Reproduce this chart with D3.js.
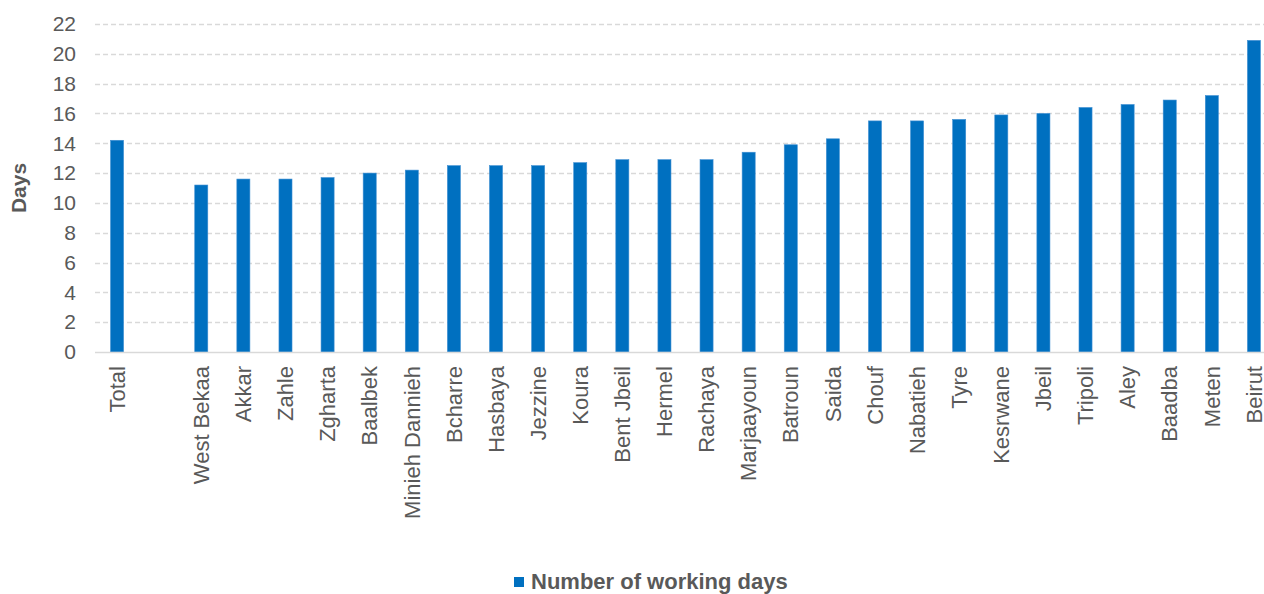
<!DOCTYPE html>
<html>
<head>
<meta charset="utf-8">
<script src="https://cdn.jsdelivr.net/npm/d3@7/dist/d3.min.js"></script>
<style>
  html, body { margin: 0; padding: 0; background: #ffffff; }
  svg { display: block; font-family: "Liberation Sans", Arial, sans-serif; }
</style>
</head>
<body>
<svg id="chart" width="1264" height="594"></svg>
<script>
const categories = ["Total", "", "West Bekaa", "Akkar", "Zahle", "Zgharta", "Baalbek", "Minieh Dannieh",
  "Bcharre", "Hasbaya", "Jezzine", "Koura", "Bent Jbeil", "Hermel", "Rachaya", "Marjaayoun",
  "Batroun", "Saida", "Chouf", "Nabatieh", "Tyre", "Kesrwane", "Jbeil", "Tripoli", "Aley",
  "Baadba", "Meten", "Beirut"];
const workingDays = [14.2, null, 11.2, 11.6, 11.6, 11.7, 12.0, 12.2,
  12.5, 12.5, 12.5, 12.7, 12.9, 12.9, 12.9, 13.4,
  13.9, 14.3, 15.5, 15.5, 15.6, 15.9, 16.0, 16.4, 16.6,
  16.9, 17.2, 20.9];
const yTicks = [0, 2, 4, 6, 8, 10, 12, 14, 16, 18, 20, 22];
const seriesName = "Number of working days";
const axisTitle = "Days";

const svg = d3.select("#chart");
const color = "#0070C0";
const textColor = "#595959";
const gridColor = "#d9d9d9";

const x = d3.scaleBand()
  .domain(d3.range(categories.length))
  .range([96, 1275])
  .paddingInner(0.69)
  .paddingOuter(0.345);
const y = d3.scaleLinear().domain([0, 22]).range([352, 24]);

// gridlines
svg.append("g").selectAll("line")
  .data(yTicks.filter(t => t !== 0))
  .join("line")
  .attr("x1", 95).attr("x2", 1264)
  .attr("y1", d => Math.round(y(d)) + 0.5).attr("y2", d => Math.round(y(d)) + 0.5)
  .attr("stroke", gridColor).attr("stroke-width", 1.3)
  .attr("stroke-dasharray", "5,3");

// y tick labels via axis
const yAxis = svg.append("g")
  .attr("transform", "translate(76,0)")
  .call(d3.axisLeft(y).tickValues(yTicks).tickSize(0).tickPadding(0).tickFormat(d3.format("d")));
yAxis.select(".domain").remove();
yAxis.selectAll("text")
  .attr("fill", textColor)
  .style("font-size", "21px")
  .style("font-family", "'Liberation Sans', Arial, sans-serif");

// bars
svg.append("g").selectAll("rect")
  .data(workingDays.map((v, i) => ({ v, i })).filter(d => d.v !== null))
  .join("rect")
  .attr("x", d => x(d.i))
  .attr("width", x.bandwidth())
  .attr("y", d => y(d.v))
  .attr("height", d => y(0) - y(d.v))
  .attr("fill", color)
  .attr("stroke", "#3f8fd2")
  .attr("stroke-width", 0.6);

// x axis line
svg.append("line")
  .attr("x1", 95).attr("x2", 1264)
  .attr("y1", y(0) + 0.5).attr("y2", y(0) + 0.5)
  .attr("stroke", gridColor).attr("stroke-width", 1.6);

// category labels (rotated)
const xAxis = svg.append("g")
  .attr("transform", `translate(0,${y(0)})`)
  .call(d3.axisBottom(x).tickSize(0).tickFormat(i => categories[i]));
xAxis.select(".domain").remove();
xAxis.selectAll("text")
  .attr("fill", textColor)
  .style("font-size", "22px")
  .style("font-family", "'Liberation Sans', Arial, sans-serif")
  .attr("text-anchor", "end")
  .attr("dy", "0.35em")
  .attr("transform", "translate(0,14) rotate(-90)")
  .attr("x", 0).attr("y", 0);

// y-axis title
svg.append("text")
  .attr("transform", "translate(26,188) rotate(-90)")
  .attr("text-anchor", "middle")
  .attr("fill", textColor)
  .style("font-size", "21px")
  .style("font-weight", "bold")
  .text(axisTitle);

// legend
const legend = svg.append("g").attr("transform", "translate(514,577)");
legend.append("rect").attr("width", 10).attr("height", 10).attr("fill", color);
legend.append("text")
  .attr("x", 17).attr("y", 12)
  .attr("fill", textColor)
  .style("font-size", "22px")
  .style("font-weight", "bold")
  .text(seriesName);
</script>
</body>
</html>
